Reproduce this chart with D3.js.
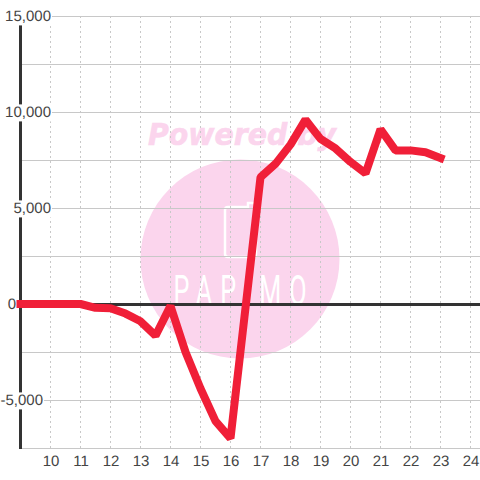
<!DOCTYPE html>
<html>
<head>
<meta charset="utf-8">
<script src="https://cdnjs.cloudflare.com/ajax/libs/d3/7.8.5/d3.min.js"></script>
<style>
  html, body { margin: 0; padding: 0; background: #fff; }
  svg { display: block; }
  text { font-family: "Liberation Sans", Arial, sans-serif; }
</style>
</head>
<body>
<div id="chart"></div>
<script>
// half hour steps, 16.5 has no point of its own in the picture
var hours = [9, 9.5, 10, 10.5, 11, 11.5, 12, 12.5, 13, 13.5, 14, 14.5, 15, 15.5, 16, 17, 17.5, 18, 18.5, 19, 19.5, 20, 20.5, 21, 21.5, 22, 22.5, 23];
var values = [0, 0, 0, 0, 0, -200, -220, -500, -900, -1650, -100, -2500, -4400, -6100, -7000, 6600, 7300, 8300, 9600, 8600, 8100, 7400, 6800, 9100, 8000, 8000, 7900, 7600];
var xTicks = [10, 11, 12, 13, 14, 15, 16, 17, 18, 19, 20, 21, 22, 23, 24];
var yTicks = [15000, 12500, 10000, 7500, 5000, 2500, 0, -2500, -5000, -7500];
var yLabels = [15000, 10000, 5000, 0, -5000];

var width = 480, height = 480;

var x = d3.scaleLinear().domain([9, 24]).range([20.5, 470.5]);
var y = d3.scaleLinear().domain([15000, -7500]).range([16, 448]);

var svg = d3.select("#chart").append("svg")
  .attr("width", width)
  .attr("height", height);

// watermark
var mark = svg.append("g");
mark.append("circle")
  .attr("cx", 240).attr("cy", 259).attr("r", 99.5)
  .attr("fill", "#fbd5ed");
mark.append("text")
  .attr("x", 242).attr("y", 145)
  .attr("text-anchor", "middle")
  .style("font-family", "'DejaVu Sans'")
  .style("font-weight", "bold")
  .style("font-style", "italic")
  .style("font-size", "30px")
  .attr("textLength", 188)
  .attr("lengthAdjust", "spacingAndGlyphs")
  .attr("fill", "#fbd5ed")
  .attr("stroke", "#fbd5ed")
  .attr("stroke-width", 0.6)
  .text("Powered by");
mark.append("path")
  .attr("d", "M228,207 H248 V203 H256 V254 Q256,257 253,257 H228 Q225,257 225,254 V210 Q225,207 228,207 Z")
  .attr("fill", "none").attr("stroke", "#fff").attr("stroke-width", 2.5);
mark.append("text")
  .attr("transform", "translate(240,305) scale(0.6,1)")
  .attr("text-anchor", "middle")
  .style("font-family", "Roboto")
  .style("font-size", "42px")
  .style("font-weight", "400")
  .attr("textLength", 222)
  .attr("lengthAdjust", "spacing")
  .attr("fill", "#fff")
  .text("PAPIMO");

// grid
svg.append("g").selectAll("line")
  .data(xTicks)
  .enter().append("line")
  .attr("x1", d => x(d)).attr("x2", d => x(d))
  .attr("y1", 16).attr("y2", 448)
  .attr("stroke", "#c8c8c8")
  .attr("stroke-dasharray", "2,3");

svg.append("g").selectAll("line")
  .data(yTicks)
  .enter().append("line")
  .attr("x1", 20).attr("x2", width)
  .attr("y1", d => Math.round(y(d)) + 0.5).attr("y2", d => Math.round(y(d)) + 0.5)
  .attr("stroke", d => d === 0 ? "#333" : "#c8c8c8")
  .attr("stroke-width", d => d === 0 ? 3 : 1);

// left axis
svg.append("line")
  .attr("x1", 20.5).attr("x2", 20.5)
  .attr("y1", 16).attr("y2", 449)
  .attr("stroke", "#333")
  .attr("stroke-width", 3);

// y labels sit on white boxes which cut the axis
function labelEnd(d) {
  if (d === 0) return 16;
  return d < 0 ? 43 : 51;
}

var yLabel = svg.append("g").selectAll("g")
  .data(yLabels)
  .enter().append("g")
  .attr("transform", d => "translate(" + labelEnd(d) + "," + y(d) + ")");

yLabel.append("text")
  .attr("text-anchor", "end")
  .attr("dy", "0.36em")
  .attr("fill", "#444")
  .style("font-size", "15px")
  .style("text-rendering", "geometricPrecision")
  .text(d => d3.format(",")(d).replace("−", "-"));

yLabel.filter(d => d !== 0).insert("rect", "text")
  .each(function() {
    var box = this.parentNode.querySelector("text").getBBox();
    d3.select(this)
      .attr("x", box.x - 1).attr("y", box.y)
      .attr("width", box.width + 2).attr("height", box.height)
      .attr("fill", "#fff");
  });

// x labels
svg.append("g").selectAll("text")
  .data(xTicks)
  .enter().append("text")
  .attr("x", d => x(d) + 0.5)
  .attr("y", 466)
  .attr("text-anchor", "middle")
  .attr("fill", "#444")
  .style("font-size", "15px")
  .style("text-rendering", "geometricPrecision")
  .text(d => d);

// series
var line = d3.line()
  .x((d, i) => x(hours[i]))
  .y(d => y(d));

svg.append("path")
  .datum(values)
  .attr("d", line)
  .attr("fill", "none")
  .attr("stroke", "#f01f38")
  .attr("stroke-width", 8)
  .attr("stroke-linejoin", "bevel")
  .attr("stroke-linecap", "square");
</script>
</body>
</html>
